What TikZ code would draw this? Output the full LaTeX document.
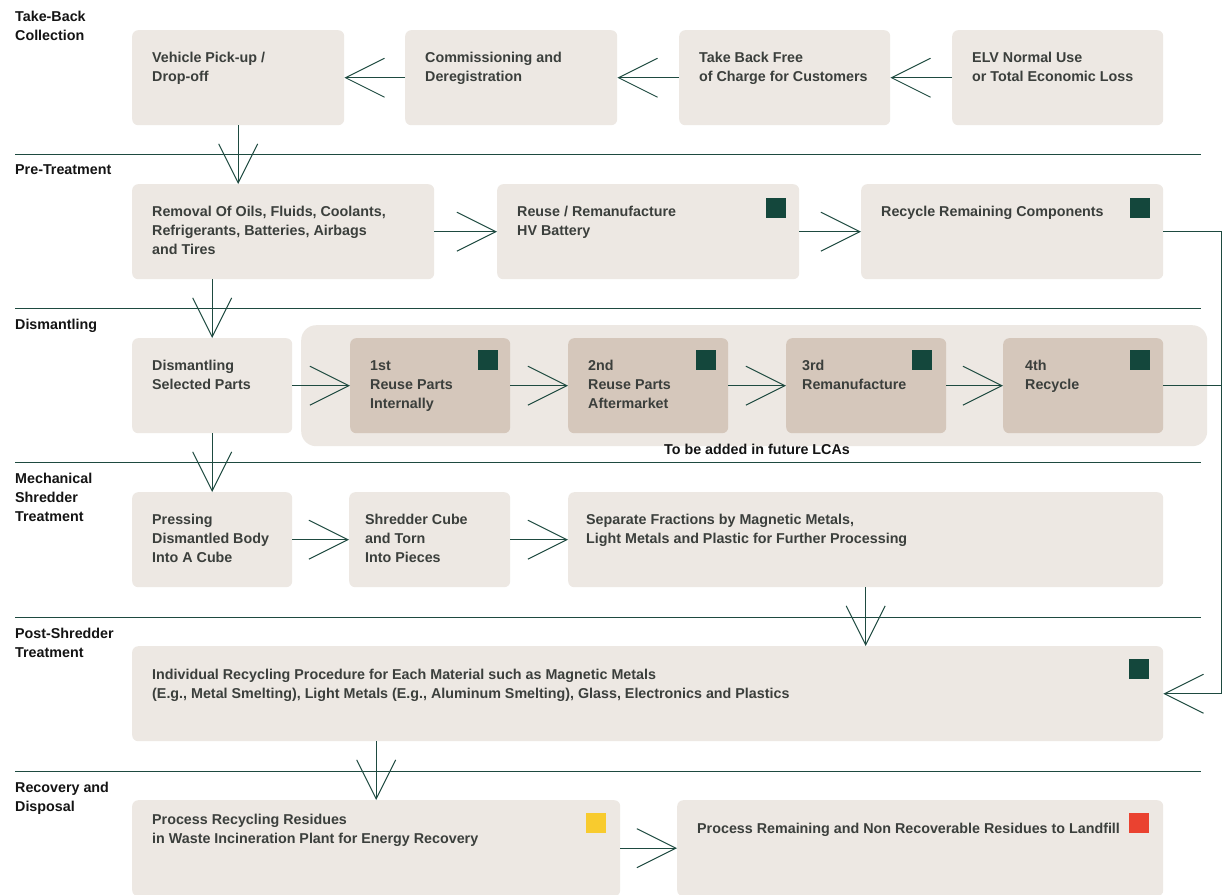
\documentclass[tikz,border=0pt]{standalone}
\usepackage{fontspec}
\setmainfont{Liberation Sans}
\usetikzlibrary{arrows.meta,calc}
\definecolor{boxfill}{HTML}{EDE8E3}
\definecolor{tierfill}{HTML}{D5C7BB}
\definecolor{flow}{HTML}{1E4A40}
\definecolor{markgreen}{HTML}{14473C}
\definecolor{markyellow}{HTML}{F8CB2E}
\definecolor{markred}{HTML}{EA4230}
\definecolor{boxtext}{HTML}{3B3F3C}
\definecolor{headtext}{HTML}{141414}

% \stagebox{name}{x}{y}{width}{height}{style}
\newcommand\stagebox[6]{%
  \node[#6, minimum width=#4pt, minimum height=#5pt] (#1) at (#2,#3) {};}

\begin{document}
\begin{tikzpicture}[x=1pt,y=-1pt,
  stage/.style={fill=boxfill, draw=none, rounded corners=6pt, inner sep=0pt, anchor=north west},
  tier/.style={stage, fill=tierfill},
  boxlabel/.style={anchor=north west, inner sep=0pt, align=left, text=boxtext,
    font=\bfseries\fontsize{14.3}{19}\selectfont},
  section/.style={anchor=north west, inner sep=0pt, align=left, text=headtext,
    font=\bfseries\fontsize{14.3}{19}\selectfont},
  badge/.style={anchor=north west, inner sep=0pt, minimum size=20pt, draw=none, fill=markgreen},
  divider/.style={draw=flow, line width=0.9pt},
  flowline/.style={draw=flow, line width=1pt},
  flowarrow/.style={flowline, -{Straight Barb[length=39pt,width=39pt,line width=1pt]}},
]
\clip (0,0) rectangle (1230,894);
\fill[white] (0,0) rectangle (1230,894);

% stage dividers
\draw[divider] (15,154) -- (1201,154);
\draw[divider] (15,308) -- (1201,308);
\draw[divider] (15,462) -- (1201,462);
\draw[divider] (15,617) -- (1201,617);
\draw[divider] (15,771) -- (1201,771);

% stage headings
\node[section] (s1) at (15,10.5) {Take-Back\\Collection};
\node[section] (s2) at (15,164.5) {Pre-Treatment};
\node[section] (s3) at (15,318.5) {Dismantling};
\node[section] (s4) at (15,472.5) {Mechanical\\Shredder\\Treatment};
\node[section] (s5) at (15,627.5) {Post-Shredder\\Treatment};
\node[section] (s6) at (15,781.5) {Recovery and\\Disposal};

% take-back collection
\stagebox{b1}{132}{30}{212}{95}{stage}
\stagebox{b2}{405}{30}{212}{95}{stage}
\stagebox{b3}{679}{30}{211}{95}{stage}
\stagebox{b4}{952}{30}{211}{95}{stage}
\node[boxlabel] (b1t) at ($(b1.north west)+(20,22)$) {Vehicle Pick-up /\\Drop-off};
\node[boxlabel] (b2t) at ($(b2.north west)+(20,22)$) {Commissioning and\\Deregistration};
\node[boxlabel] (b3t) at ($(b3.north west)+(20,22)$) {Take Back Free\\of Charge for Customers};
\node[boxlabel] (b4t) at ($(b4.north west)+(20,22)$) {ELV Normal Use\\or Total Economic Loss};

% pre-treatment
\stagebox{c1}{132}{184}{302}{95}{stage}
\stagebox{c2}{497}{184}{302}{95}{stage}
\stagebox{c3}{861}{184}{302}{95}{stage}
\node[boxlabel] (c1t) at ($(c1.north west)+(20,22)$) {Removal Of Oils, Fluids, Coolants,\\Refrigerants, Batteries, Airbags\\and Tires};
\node[boxlabel] (c2t) at ($(c2.north west)+(20,22)$) {Reuse / Remanufacture\\HV Battery};
\node[boxlabel] (c3t) at ($(c3.north west)+(20,22)$) {Recycle Remaining Components};
\node[badge] (c2m) at (766,198) {};
\node[badge] (c3m) at (1130,198) {};

% dismantling
\node[fill=boxfill, draw=none, rounded corners=15pt, inner sep=0pt, anchor=north west,
  minimum width=906pt, minimum height=121pt] (future) at (301,325) {};
\stagebox{d1}{132}{338}{160}{95}{stage}
\stagebox{d2}{350}{338}{160}{95}{tier}
\stagebox{d3}{568}{338}{160}{95}{tier}
\stagebox{d4}{786}{338}{160}{95}{tier}
\stagebox{d5}{1003}{338}{160}{95}{tier}
\node[boxlabel] (d1t) at ($(d1.north west)+(20,22)$) {Dismantling\\Selected Parts};
\node[boxlabel] (d2t) at ($(d2.north west)+(20,22)$) {1st\\Reuse Parts\\Internally};
\node[boxlabel] (d3t) at ($(d3.north west)+(20,22)$) {2nd\\Reuse Parts\\Aftermarket};
\node[boxlabel] (d4t) at ($(d4.north west)+(16,22)$) {3rd\\Remanufacture};
\node[boxlabel] (d5t) at ($(d5.north west)+(22,22)$) {4th\\Recycle};
\node[badge] (d2m) at (478,350) {};
\node[badge] (d3m) at (696,350) {};
\node[badge] (d4m) at (912,350) {};
\node[badge] (d5m) at (1130,350) {};
\node[inner sep=0pt, text=headtext, font=\bfseries\fontsize{14.3}{19}\selectfont]
  (futurenote) at (757,449) {To be added in future LCAs};

% mechanical shredder treatment
\stagebox{e1}{132}{492}{160}{95}{stage}
\stagebox{e2}{349}{492}{161}{95}{stage}
\stagebox{e3}{568}{492}{595}{95}{stage}
\node[boxlabel] (e1t) at ($(e1.north west)+(20,22)$) {Pressing\\Dismantled Body\\Into A Cube};
\node[boxlabel] (e2t) at ($(e2.north west)+(16,22)$) {Shredder Cube\\and Torn\\Into Pieces};
\node[boxlabel] (e3t) at ($(e3.north west)+(18,22)$) {Separate Fractions by Magnetic Metals,\\Light Metals and Plastic for Further Processing};

% post-shredder treatment
\stagebox{f}{132}{646}{1031}{95}{stage}
\node[boxlabel] (ft) at ($(f.north west)+(20,23)$) {Individual Recycling Procedure for Each Material such as Magnetic Metals\\(E.g., Metal Smelting), Light Metals (E.g., Aluminum Smelting), Glass, Electronics and Plastics};
\node[badge] (fm) at (1129,659) {};

% recovery and disposal
\stagebox{g1}{132}{800}{488}{96}{stage}
\stagebox{g2}{677}{800}{486}{96}{stage}
\node[boxlabel] (g1t) at ($(g1.north west)+(20,14)$) {Process Recycling Residues\\in Waste Incineration Plant for Energy Recovery};
\node[boxlabel] (g2t) at ($(g2.north west)+(20,23)$) {Process Remaining and Non Recoverable Residues to Landfill};
\node[badge, fill=markyellow] (g1m) at (586,813) {};
\node[badge, fill=markred] (g2m) at (1129,813) {};

% flow connectors
\draw[flowarrow] (b4) -- (b3);
\draw[flowarrow] (b3) -- (b2);
\draw[flowarrow] (b2) -- (b1);
\draw[flowarrow] (b1) -- (b1 |- c1.north);
\draw[flowarrow] (c1) -- (c2);
\draw[flowarrow] (c2) -- (c3);
\draw[flowarrow] (d1.north |- c1.south) -- (d1);
\draw[flowarrow] (d1) -- (d2);
\draw[flowarrow] (d2) -- (d3);
\draw[flowarrow] (d3) -- (d4);
\draw[flowarrow] (d4) -- (d5);
\draw[flowarrow] (d1) -- (e1);
\draw[flowarrow] (e1) -- (e2);
\draw[flowarrow] (e2) -- (e3);
\draw[flowarrow] (e3) -- (e3 |- f.north);
\draw[flowarrow] (g1 |- f.south) -- (g1);
\draw[flowarrow] (g1) -- (g2);

% recycling return path on the right
\coordinate (rail) at (1221,231);
\draw[flowline] (d5.east) -- (d5.east -| rail);
\draw[flowarrow] (c3.east) -- (c3.east -| rail) |- (f.east);
\end{tikzpicture}
\end{document}
